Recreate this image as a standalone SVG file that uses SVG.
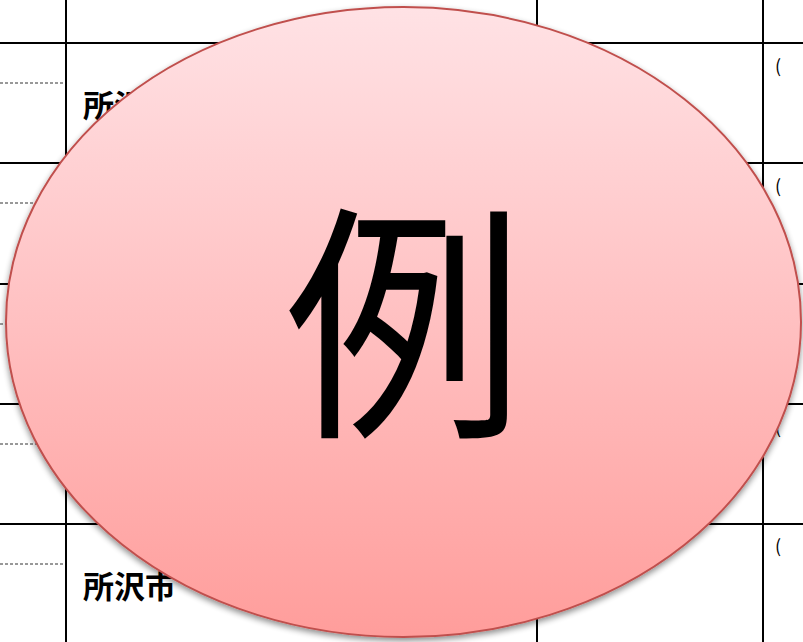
<svg xmlns="http://www.w3.org/2000/svg" width="803" height="642" viewBox="0 0 803 642">
<defs>
<style>
.g{stroke:#000;stroke-width:2;fill:none}
.d{stroke:#333;stroke-width:1;stroke-dasharray:3,2;fill:none}
.t{font-family:"Noto Sans CJK JP","Noto Sans CJK SC",sans-serif;fill:#000}
</style>
<linearGradient id="pk" x1="0" y1="0" x2="0" y2="1">
<stop offset="0" stop-color="#ffe2e5"/>
<stop offset="0.5" stop-color="#ffc0c1"/>
<stop offset="1" stop-color="#ff9d9b"/>
</linearGradient>
<filter id="sh" x="-5%" y="-5%" width="110%" height="115%">
<feGaussianBlur in="SourceAlpha" stdDeviation="3"/>
<feOffset dy="3" result="b"/>
<feComponentTransfer><feFuncA type="linear" slope="0.45"/></feComponentTransfer>
<feMerge><feMergeNode/><feMergeNode in="SourceGraphic"/></feMerge>
</filter>
</defs>
<rect width="803" height="642" fill="#fff"/>
<g id="table">
<path class="g" d="M66 0V642M537 0V642M763 0V642M0 43H803M0 163H803M0 284H803M0 404H803M0 524H803"/>
<path class="d" d="M0 83H64M0 203H64M0 324H64M0 444H64M0 564H64"/>
<text class="t" x="83" y="117" font-size="31" font-weight="bold">所沢市</text>
<text class="t" x="83" y="598" font-size="31" font-weight="bold">所沢市</text>
<text class="t" x="775" y="73" font-size="18">(</text>
<text class="t" x="775" y="193" font-size="18">(</text>
<text class="t" x="775" y="314" font-size="18">(</text>
<text class="t" x="775" y="434" font-size="18">(</text>
<text class="t" x="775" y="553" font-size="18">(</text>
</g>
<g id="badge">
<ellipse cx="403.5" cy="322" rx="397.5" ry="315" fill="url(#pk)" stroke="#c0504d" stroke-width="2" filter="url(#sh)"/>
<text class="t" transform="translate(404.5,418) scale(0.957,1)" x="0" y="0" font-size="250" text-anchor="middle">例</text>
</g>
</svg>
